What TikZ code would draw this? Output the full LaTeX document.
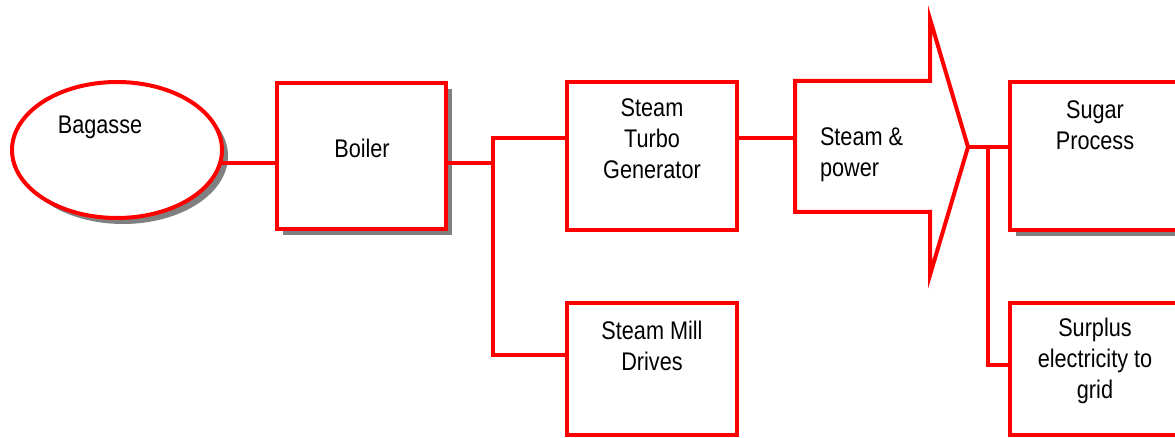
\documentclass[tikz,border=0pt]{standalone}
\usepackage{fontspec}
\setmainfont{Liberation Sans}[FakeStretch=0.85]
\usetikzlibrary{shadows,shapes.geometric,calc}
\begin{document}
\begin{tikzpicture}[x=1pt,y=-1pt, line width=4pt,
  box/.style={draw=red, fill=white, rectangle, inner sep=0pt},
  shad/.style={drop shadow={shadow xshift=6pt, shadow yshift=-6pt, fill=black!50, opacity=1}},
  lbl/.style={font=\fontsize{25.5}{31}\selectfont, align=center, inner sep=0pt, text=black},
  wire/.style={draw=red, line width=4pt}]
\useasboundingbox (0,0) rectangle (1175,438);
\clip (0,0) rectangle (1175,438);
% shapes
\node[box, ellipse, minimum width=210pt, minimum height=136pt, shad] (bag) at (117,150) {};
\node[box, minimum width=169pt, minimum height=146pt, shad] (boil) at (361.5,156) {};
\node[box, minimum width=170pt, minimum height=148pt] (stg) at (652,156) {};
\node[box, minimum width=170pt, minimum height=132pt] (smd) at (652,369) {};
\node[box, minimum width=200pt, minimum height=148pt, shad] (sug) at (1110,156) {};
\node[box, minimum width=200pt, minimum height=132pt] (sur) at (1110,369) {};
\draw[red, fill=white, line join=miter] (795,81) -- (930,81) -- (930,19) -- (968,147) -- (930,275) -- (930,212) -- (795,212) -- cycle;
\coordinate (arL) at (795,138);
\coordinate (arT) at (968,147);
% texts
\node[lbl] (tbag) at (100,127) {Bagasse};
\node[lbl] (tboil) at (362,148) {Boiler};
\node[lbl] (tstg) at (652,139) {Steam\\Turbo\\Generator};
\node[lbl] (tsmd) at (652,346) {Steam Mill\\Drives};
\node[lbl, align=left, anchor=west] (tarw) at (818,155) {Steam \&\\power};
\node[lbl] (tsug) at (1095,125) {Sugar\\Process};
\node[lbl] (tsur) at (1095,361) {Surplus\\electricity to\\grid};
% connectors
\coordinate (j1) at (493,163);
\coordinate (j1t) at (493,138);
\coordinate (j1b) at (493,355);
\coordinate (j2) at (988,147);
\coordinate (j2b) at (988,365);
\draw[wire] ($(bag.center)+(103,13)$) -- (boil.west |- j1);
\draw[wire] (boil.east |- j1) -- (j1);
\draw[wire] (stg.west |- j1t) -- (j1t) -- (j1b) -- (smd.west |- j1b);
\draw[wire] (stg.east |- arL) -- (arL);
\draw[wire] (arT) -- (sug.west |- arT);
\draw[wire] (j2) -- (j2b) -- (sur.west |- j2b);
\end{tikzpicture}
\end{document}
